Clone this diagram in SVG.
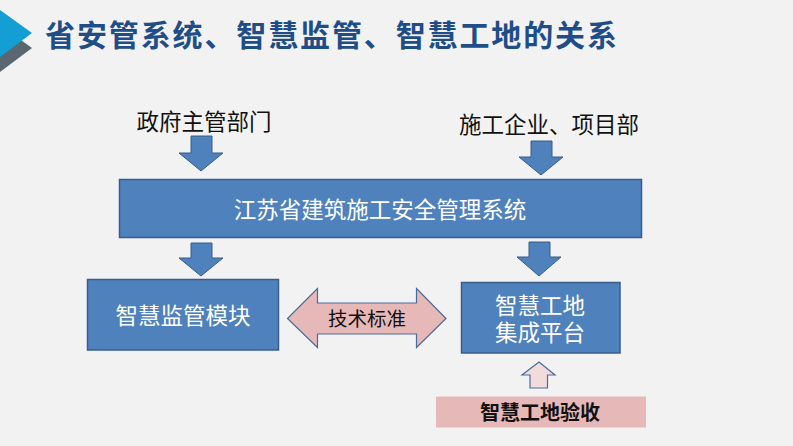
<svg xmlns="http://www.w3.org/2000/svg" width="793" height="446" viewBox="0 0 793 446">
<style>
.box{fill:#4f81bd;stroke:#385d8a;stroke-width:1.5}
.arr{fill:#4f81bd;stroke:#385d8a;stroke-width:1}
.pink{fill:#e6b9b8;stroke:#4a6c9b;stroke-width:1.2}
.lbl{font-family:"Noto Sans CJK SC","Noto Sans",sans-serif;font-size:22.5px;text-anchor:middle}
.tight{font-family:"Liberation Sans","Noto Sans CJK SC",sans-serif}
.w{fill:#ffffff}
.k{fill:#111111}
</style>
<rect x="0" y="0" width="793" height="446" fill="#f2f2f2"/>
<g id="corner">
<polygon points="0,25 32,48 0,72" fill="#5b6770"/>
<polygon points="0,10 32,33 0,57" fill="#139fd3"/>
</g>
<text id="title" x="45" y="46" textLength="572" lengthAdjust="spacing" font-family="'Noto Sans CJK SC','Noto Sans',sans-serif" font-size="30" font-weight="bold" fill="#1f4d87">省安管系统、智慧监管、智慧工地的关系</text>
<g id="gov"><text class="lbl k" x="204" y="130">政府主管部门</text></g>
<g id="ent"><text class="lbl k" x="549" y="132.5">施工企业、项目部</text></g>
<g id="system">
<rect class="box" x="119.5" y="179.5" width="522" height="58"/>
<text class="lbl w" x="380" y="217.5">江苏省建筑施工安全管理系统</text>
</g>
<g id="supervision">
<rect class="box" x="87.5" y="279.5" width="191" height="70.5"/>
<text class="lbl w" x="183" y="324">智慧监管模块</text>
</g>
<g id="platform">
<rect class="box" x="461.5" y="282.5" width="158.5" height="70.5"/>
<text class="lbl w tight" x="540" y="313.5">智慧工地</text>
<text class="lbl w tight" x="540" y="341">集成平台</text>
</g>
<g id="acceptance">
<rect x="436" y="396.5" width="210" height="31" fill="#e6b9b8"/>
<text class="lbl k" x="540" y="420" style="font-size:20px;font-weight:bold">智慧工地验收</text>
</g>
<g id="connectors">
<polygon class="arr" points="191,136 212,136 212,153 223,153 201,171 179,153 191,153"/>
<polygon class="arr" points="531,141 552,141 552,157 563,157 541,175 519,157 531,157"/>
<polygon class="arr" points="191,243 212,243 212,258 223,258 201,276 179,258 191,258"/>
<polygon class="arr" points="529,242 550,242 550,257 561,257 539,276 517,257 529,257"/>
<g id="tech">
<polygon class="pink" points="287.5,318.5 317.5,288.5 317.5,303 416.5,303 416.5,288.5 446,318.5 416.5,347.5 416.5,334 317.5,334 317.5,347.5"/>
<text class="lbl k" x="367" y="326" style="font-size:19.5px">技术标准</text>
</g>
<polygon points="539,362 555,375 547.5,375 547.5,388 530,388 530,375 522,375" fill="#f2dcdb" stroke="#4a6c9b" stroke-width="1.2"/>
</g>
</svg>
